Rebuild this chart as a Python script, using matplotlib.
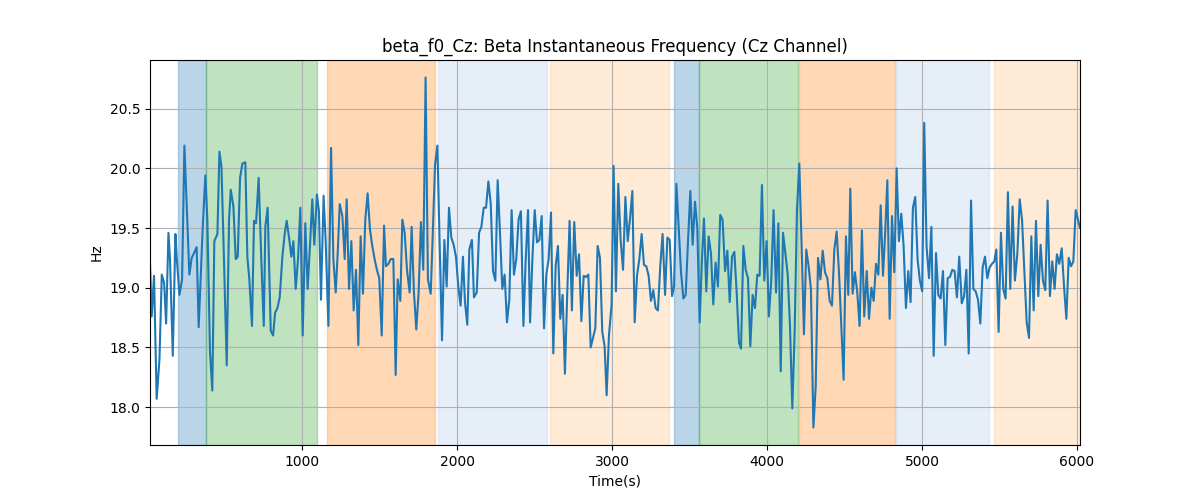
import matplotlib
matplotlib.use('Agg')
import matplotlib.pyplot as plt

# instantaneous beta frequency (time in s, frequency in Hz)
times = [
    19, 30, 45, 62, 80, 95, 110, 123, 138, 148, 166, 183, 191, 209, 226, 241, 257, 273, 288, 303,
    320, 333, 346, 359, 376, 389, 406, 421, 434, 454, 467, 480, 497, 514, 529, 540, 557, 572, 585, 600,
    615, 634, 647, 660, 677, 690, 703, 720, 737, 753, 763, 778, 798, 813, 826, 841, 856, 873, 888, 901,
    918, 931, 944, 959, 974, 989, 1004, 1021, 1036, 1051, 1066, 1079, 1096, 1109, 1122, 1139, 1152, 1170, 1187, 1202,
    1217, 1230, 1243, 1260, 1275, 1288, 1303, 1318, 1333, 1348, 1363, 1378, 1393, 1408, 1423, 1438, 1453, 1471, 1483, 1498,
    1514, 1529, 1541, 1557, 1572, 1589, 1604, 1617, 1634, 1647, 1662, 1677, 1694, 1707, 1722, 1737, 1752, 1767, 1782, 1797,
    1812, 1830, 1842, 1858, 1873, 1888, 1903, 1918, 1933, 1948, 1963, 1978, 1993, 2008, 2023, 2038, 2051, 2066, 2079, 2096,
    2109, 2127, 2142, 2157, 2172, 2187, 2202, 2217, 2232, 2247, 2262, 2277, 2292, 2307, 2322, 2337, 2352, 2367, 2382, 2397,
    2412, 2428, 2443, 2458, 2471, 2486, 2501, 2516, 2531, 2546, 2561, 2576, 2591, 2606, 2621, 2636, 2651, 2666, 2681, 2696,
    2711, 2726, 2741, 2756, 2772, 2787, 2802, 2817, 2832, 2847, 2862, 2877, 2892, 2907, 2922, 2937, 2952, 2965, 2980, 2997,
    3010, 3025, 3040, 3056, 3071, 3086, 3101, 3116, 3131, 3146, 3161, 3176, 3191, 3206, 3221, 3236, 3251, 3266, 3281, 3296,
    3311, 3326, 3342, 3357, 3372, 3387, 3400, 3415, 3430, 3445, 3460, 3475, 3490, 3505, 3520, 3535, 3550, 3565, 3580, 3593,
    3608, 3623, 3638, 3653, 3668, 3683, 3698, 3713, 3729, 3744, 3759, 3774, 3789, 3804, 3819, 3832, 3847, 3862, 3877, 3892,
    3907, 3922, 3937, 3952, 3967, 3982, 3997, 4012, 4027, 4042, 4058, 4073, 4088, 4103, 4118, 4133, 4148, 4163, 4178, 4193,
    4208, 4223, 4238, 4253, 4268, 4283, 4299, 4314, 4329, 4344, 4359, 4374, 4389, 4404, 4419, 4434, 4449, 4464, 4479, 4494,
    4509, 4524, 4537, 4552, 4567, 4582, 4597, 4612, 4627, 4643, 4658, 4673, 4688, 4703, 4718, 4733, 4748, 4763, 4776, 4791,
    4806, 4821, 4836, 4851, 4866, 4881, 4896, 4911, 4926, 4941, 4956, 4971, 4986, 5001, 5014, 5029, 5045, 5060, 5075, 5090,
    5105, 5120, 5135, 5150, 5165, 5180, 5195, 5210, 5225, 5240, 5256, 5271, 5286, 5301, 5316, 5331, 5346, 5361, 5376, 5391,
    5406, 5421, 5436, 5451, 5466, 5479, 5494, 5509, 5524, 5539, 5554, 5569, 5584, 5599, 5615, 5630, 5645, 5660, 5675, 5690,
    5705, 5720, 5735, 5750, 5765, 5780, 5795, 5810, 5825, 5840, 5855, 5870, 5885, 5901, 5916, 5931, 5946, 5961, 5976, 5991,
    6006, 6019,
]
freq = [
    19.21, 18.76, 19.10, 18.07, 18.40, 19.11, 19.04, 18.70, 19.46, 19.24, 18.43, 19.45, 19.26, 18.94, 19.07, 20.19, 19.65, 19.11, 19.25, 19.29,
    19.34, 18.67, 19.08, 19.50, 19.94, 19.57, 18.46, 18.14, 19.39, 19.45, 20.14, 20.01, 19.20, 18.35, 19.57, 19.82, 19.68, 19.24, 19.26, 19.92,
    20.04, 20.05, 19.26, 19.07, 18.68, 19.56, 19.54, 19.92, 19.24, 18.68, 19.51, 19.67, 18.64, 18.60, 18.79, 18.83, 18.92, 19.26, 19.45, 19.56,
    19.40, 19.26, 19.39, 18.99, 19.24, 19.67, 18.60, 19.54, 18.99, 19.35, 19.74, 19.36, 19.78, 19.64, 18.90, 19.77, 19.40, 18.68, 20.17, 19.24,
    18.96, 19.29, 19.70, 19.60, 19.24, 19.74, 18.99, 19.39, 18.81, 19.15, 18.52, 19.43, 18.95, 19.57, 19.79, 19.49, 19.35, 19.22, 19.15, 19.08,
    18.60, 19.52, 19.18, 19.20, 19.24, 19.24, 18.27, 19.07, 18.89, 19.57, 19.46, 19.15, 18.96, 19.51, 18.96, 18.65, 18.96, 19.55, 19.15, 20.76,
    19.07, 18.95, 19.40, 20.03, 20.19, 19.35, 18.56, 19.40, 19.01, 19.67, 19.42, 19.36, 19.26, 19.01, 18.85, 19.26, 18.88, 18.69, 19.32, 19.40,
    18.92, 18.96, 19.46, 19.51, 19.67, 19.67, 19.89, 19.71, 19.14, 19.06, 19.90, 19.46, 18.99, 19.11, 18.71, 18.90, 19.65, 19.11, 19.24, 19.57,
    19.64, 18.68, 19.24, 19.65, 18.71, 19.24, 19.65, 19.38, 19.40, 19.60, 18.66, 19.11, 19.24, 19.63, 18.45, 19.18, 19.35, 18.74, 18.94, 18.28,
    18.96, 19.56, 18.81, 19.55, 19.10, 19.28, 18.72, 19.10, 19.09, 19.11, 18.50, 18.58, 18.66, 19.35, 19.25, 18.63, 18.51, 18.10, 18.60, 18.86,
    20.02, 18.97, 19.87, 19.39, 19.15, 19.76, 19.39, 19.58, 19.81, 18.71, 19.10, 19.24, 19.45, 19.19, 19.18, 19.10, 18.89, 18.98, 18.83, 18.81,
    19.18, 19.45, 18.94, 19.42, 19.40, 18.93, 19.01, 19.87, 19.50, 19.13, 18.91, 18.94, 19.39, 19.81, 19.36, 19.72, 19.50, 18.71, 19.24, 19.58,
    18.97, 19.43, 19.29, 18.86, 19.21, 19.01, 19.61, 19.57, 19.14, 19.31, 18.88, 19.26, 19.30, 18.96, 18.54, 18.49, 19.35, 19.15, 19.08, 18.51,
    18.94, 18.83, 19.11, 19.10, 19.86, 19.06, 19.39, 18.76, 19.06, 19.65, 18.96, 19.54, 18.30, 19.46, 19.29, 19.11, 18.68, 17.99, 18.63, 19.65,
    20.04, 19.35, 18.61, 19.32, 19.18, 18.99, 17.83, 18.18, 19.25, 19.07, 19.31, 19.13, 19.08, 18.89, 18.85, 19.32, 19.47, 19.13, 18.68, 18.23,
    19.43, 18.94, 19.83, 18.95, 19.13, 18.96, 18.68, 19.48, 18.76, 19.14, 18.74, 19.00, 18.89, 19.20, 19.11, 19.69, 19.10, 19.49, 19.90, 18.74,
    19.60, 19.13, 20.00, 19.39, 19.62, 19.35, 18.83, 19.14, 18.88, 19.67, 19.76, 19.24, 19.06, 18.97, 20.38, 19.35, 19.08, 19.51, 18.43, 19.29,
    18.94, 18.91, 19.14, 18.52, 19.08, 19.09, 19.15, 19.14, 18.92, 19.26, 18.87, 18.93, 19.15, 18.45, 19.73, 18.99, 18.97, 18.90, 18.70, 19.17,
    19.26, 19.08, 19.17, 19.20, 19.22, 19.32, 18.63, 19.46, 18.99, 18.91, 19.80, 18.99, 19.68, 19.06, 19.29, 19.74, 19.57, 19.15, 18.71, 18.58,
    19.43, 18.81, 19.56, 18.93, 19.36, 19.06, 18.98, 19.73, 18.93, 19.22, 18.99, 19.28, 19.20, 19.33, 19.01, 18.74, 19.25, 19.18, 19.22, 19.65,
    19.57, 19.50,
]

# shaded task segments
span_starts = [202, 379, 1161, 1875, 2600, 3400, 3561, 4206, 4832, 5465]
span_ends = [379, 1095, 1858, 2583, 3368, 3561, 4200, 4828, 5432, 6040]
span_colors = ['#1f77b4', '#2ca02c', '#ff7f0e', '#aec7e8', '#ffbb78',
               '#1f77b4', '#2ca02c', '#ff7f0e', '#aec7e8', '#ffbb78']

fig, ax = plt.subplots(figsize=(12, 5), dpi=100)

for start, end, color in zip(span_starts, span_ends, span_colors):
    ax.axvspan(start, end, color=color, alpha=0.3)

ax.plot(times, freq, color='#1f77b4', linewidth=1.5)

ax.set_xlim(times[0], times[-1])
ax.set_title('beta_f0_Cz: Beta Instantaneous Frequency (Cz Channel)')
ax.set_xlabel('Time(s)')
ax.set_ylabel('Hz')
ax.grid(True)

fig.savefig('out.png')
